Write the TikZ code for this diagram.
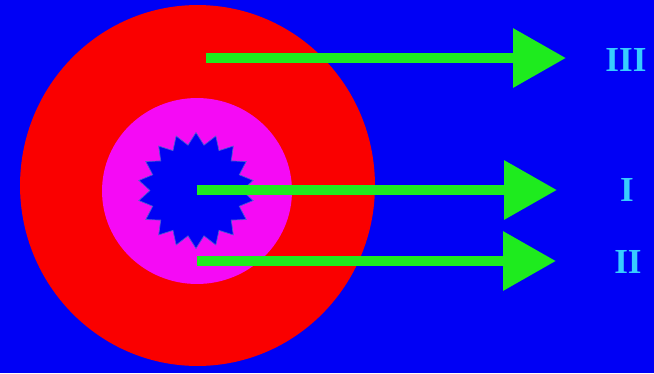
\documentclass[tikz,border=0pt]{standalone}
\usepackage{fontspec}
\setmainfont{Liberation Serif}
\usetikzlibrary{arrows.meta, positioning, shapes.geometric}
\definecolor{skyblue}{RGB}{0, 0, 245}
\definecolor{ringred}{RGB}{250, 0, 0}
\definecolor{ringpink}{RGB}{245, 10, 245}
\definecolor{raygreen}{RGB}{30, 235, 30}
\definecolor{labelcyan}{RGB}{55, 205, 255}
\definecolor{coreedge}{RGB}{80, 90, 210}

\begin{document}
\begin{tikzpicture}[x=0.02cm, y=-0.02cm,
        ring/.style={ellipse, inner sep=0pt},
        ray/.style={draw=raygreen, line width=0.2cm, -{Triangle[length=1.06cm, width=1.14cm, fill=raygreen]}},
        roman/.style={font=\fontsize{20}{20}\selectfont\bfseries, text=labelcyan, inner sep=1pt}
    ]
        % Background
        \fill[skyblue] (0, 0) rectangle (654, 373);
        \useasboundingbox (0, 0) rectangle (654, 373);

        % Rings
        \node[ring, fill=ringred, minimum width=7.1cm, minimum height=7.22cm] (outer) at (197.5, 185.5) {};
        \node[ring, fill=ringpink, minimum width=3.8cm, minimum height=3.72cm] (middle) at (197, 191) {};
        \node[star, star points=18, star point ratio=1.26, fill=skyblue, draw=coreedge, thin, inner sep=0pt, minimum size=2.32cm] (core) at (196, 190.5) {};

        % Labels
        \node[roman] (lIII) at (626, 60) {III};
        \node[roman] (lI) at (627, 190) {I};
        \node[roman] (lII) at (628, 262) {II};

        % Rays
        \coordinate (sIII) at (206, 58);  \coordinate (tIII) at (566, 58);
        \coordinate (sI) at (197, 190);   \coordinate (tI) at (557, 190);
        \coordinate (sII) at (197, 261);  \coordinate (tII) at (556, 261);
        \draw[ray] (sIII) -- (tIII);
        \draw[ray] (sI) -- (tI);
        \draw[ray] (sII) -- (tII);
    \end{tikzpicture}
\end{document}
